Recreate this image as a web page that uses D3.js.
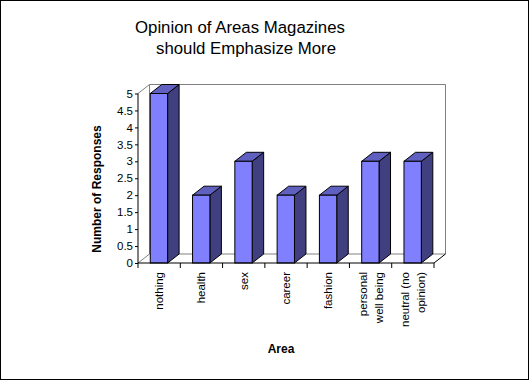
<!DOCTYPE html>
<html><head><meta charset="utf-8">
<script src="https://cdn.jsdelivr.net/npm/d3@7"></script>
<style>
html,body{margin:0;padding:0;background:#fff;}
svg{display:block;}
text{font-family:Arial,"Liberation Sans",sans-serif;fill:#000;}
</style></head>
<body>
<script>
const categories = ["nothing","health","sex","career","fashion","personal well being","neutral (no opinion)"];
const categoryLines = [["nothing"],["health"],["sex"],["career"],["fashion"],["personal","well being"],["neutral (no","opinion)"]];
const values = [5,2,3,2,2,3,3];
const yTicks = [0,0.5,1,1.5,2,2.5,3,3.5,4,4.5,5];
const titleLines = ["Opinion of Areas Magazines","should Emphasize More"];
const yTitle = "Number of Responses";
const xTitle = "Area";

const W = 529, H = 380;
const svg = d3.select("body").append("svg").attr("width", W).attr("height", H);

svg.append("rect").attr("x",0.5).attr("y",0.5).attr("width",W-1).attr("height",H-1)
  .attr("fill","#fff").attr("stroke","#000");

const x0 = 138, x1 = 434, yBase = 263, yTop = 93.5;
const dx = 11.5, dy = -9;
const x = d3.scaleBand().domain(categories).range([x0, x1]);
const y = d3.scaleLinear().domain([0,5]).range([yBase, yTop]);

// back wall & floor (gray)
const g = svg.append("g");
const gray = "#808080";
function line(p, c){ g.append("path").attr("d", d3.line()(p)).attr("fill","none").attr("stroke",c).attr("stroke-width",1); }
line([[x0+dx, y(5)+dy],[x1+dx, y(5)+dy],[x1+dx, y(0)+dy]], gray);
line([[x0+dx, y(0)+dy],[x1+dx, y(0)+dy]], gray);
line([[x0+dx, y(0)+dy],[x0+dx, y(5)+dy]], gray);
line([[x0, y(5)],[x0+dx, y(5)+dy]], gray);
line([[x0, y(0)],[x0+dx, y(0)+dy]], gray);
line([[x1, y(0)],[x1+dx, y(0)+dy]], "#000");

// bars
const bw = x.bandwidth()*0.41, boff = x.bandwidth()*0.29;
const bars = svg.append("g").selectAll("g").data(values).join("g");
bars.each(function(v,i){
  const sel = d3.select(this);
  const L = x(categories[i]) + boff, R = L + bw, T = y(v), B = y(0);
  sel.append("path").attr("d", d3.line()([[R,B],[R+dx,B+dy],[R+dx,T+dy],[R,T]])+"Z")
    .attr("fill","#404080").attr("stroke","#000");
  sel.append("path").attr("d", d3.line()([[L,T],[L+dx,T+dy],[R+dx,T+dy],[R,T]])+"Z")
    .attr("fill","#6060C0").attr("stroke","#000");
  sel.append("rect").attr("x",L).attr("y",T).attr("width",bw).attr("height",B-T)
    .attr("fill","#8080FF").attr("stroke","#000");
});

// axes
const yAxis = d3.axisLeft(y).tickValues(yTicks).tickSize(3).tickPadding(2).tickFormat(d3.format("~g"));
const ya = svg.append("g").attr("transform",`translate(${x0},0)`).call(yAxis);
ya.select(".domain").attr("d", `M-0,${yBase}V${yTop}`);
ya.selectAll("text").style("font-size","11.5px").style("font-family","Arial, 'Liberation Sans', sans-serif");

const xa = svg.append("g");
xa.append("line").attr("x1",x0).attr("x2",x1).attr("y1",yBase).attr("y2",yBase).attr("stroke","#000");
const bounds = categories.map(c => x(c)).concat([x1]);
xa.selectAll("line.tk").data(bounds).join("line").attr("class","tk")
  .attr("x1",d=>d).attr("x2",d=>d).attr("y1",yBase).attr("y2",yBase+5).attr("stroke","#000");

const lh = 16;
categories.forEach((c,i)=>{
  const cx = x(c) + x.bandwidth()/2;
  const lines = categoryLines[i];
  const t = svg.append("text").attr("transform",`translate(${cx},${272}) rotate(-90)`)
    .attr("text-anchor","end").style("font-size","11.5px");
  lines.forEach((ln,j)=>{
    const off = (j - (lines.length-1)/2)*lh + 4;
    t.append("tspan").attr("x",0).attr("y",off).text(ln);
  });
});

// titles
svg.append("text").attr("x",135).attr("y",33).style("font-size","16.8px").text(titleLines[0]);
svg.append("text").attr("x",156).attr("y",53.5).style("font-size","16.8px").text(titleLines[1]);

svg.append("text").attr("transform",`translate(101,189) rotate(-90)`).attr("text-anchor","middle")
  .style("font-size","12px").style("font-weight","bold").text(yTitle);
svg.append("text").attr("x",281).attr("y",352.7).attr("text-anchor","middle")
  .style("font-size","12px").style("font-weight","bold").text(xTitle);
</script>
</body></html>
